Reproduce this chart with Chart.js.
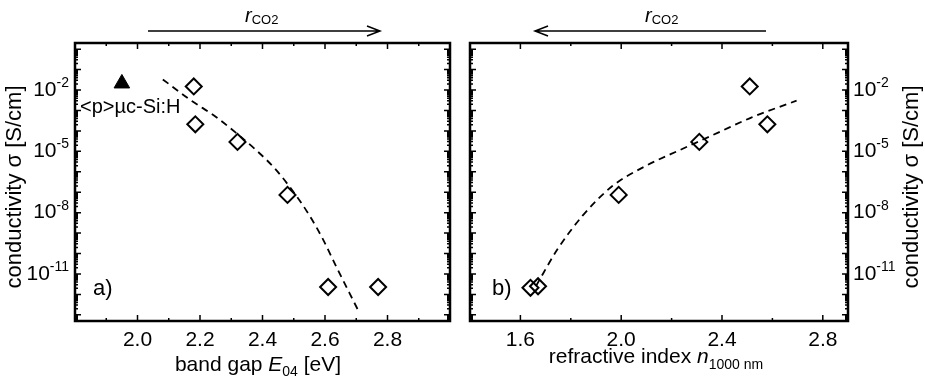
<!DOCTYPE html>
<html>
<head>
<meta charset="utf-8">
<script src="https://cdn.jsdelivr.net/npm/chart.js@4.4.1/dist/chart.umd.min.js"></script>
<style>
    body { margin: 0; background: #fff; }
    #wrap { position: relative; width: 925px; height: 380px; }
    .panel { position: absolute; top: 0; height: 380px; }
    #left { left: 0; width: 460px; }
    #right { left: 460px; width: 465px; }
</style>
</head>
<body>
<div id="wrap">
    <div class="panel" id="left"><canvas id="gapChart"></canvas></div>
    <div class="panel" id="right"><canvas id="indexChart"></canvas></div>
</div>
<script>
// ---------------- DATA ----------------

// panel a) band gap E04 [eV] vs conductivity [S/cm]
const gapValues = [2.18, 2.185, 2.32, 2.48, 2.61, 2.77];
const gapSigma = [1.5e-2, 2.1e-4, 2.9e-5, 7.4e-8, 2.3e-12, 2.3e-12];

// reference <p>µc-Si:H layer
const refGap = [1.95];
const refSigma = [2.1e-2];

// dashed guide line, panel a) (read off the picture)
const gapFitX = [2.081, 2.174, 2.247, 2.315, 2.384, 2.442, 2.505, 2.552, 2.594, 2.636, 2.678, 2.705];
const gapFitY = [3.3e-2, 2.9e-3, 5.4e-4, 8.1e-5, 1.0e-5, 1.3e-6, 7.8e-8, 6.6e-9, 4.8e-10, 2.3e-11, 1.2e-12, 1.8e-13];

// panel b) refractive index n(1000 nm) vs conductivity
const indexValues = [2.51, 2.58, 2.31, 1.99, 1.64, 1.67];
const indexSigma = [1.5e-2, 2.1e-4, 2.9e-5, 7.4e-8, 2.1e-12, 2.5e-12];

// dashed guide line, panel b)
const indexFitX = [1.662, 1.747, 1.846, 1.965, 2.096, 2.242, 2.387, 2.518, 2.696];
const indexFitY = [2.6e-12, 1.6e-10, 6.9e-9, 2.0e-7, 1.9e-6, 1.3e-5, 8.5e-5, 4.6e-4, 3.0e-3];

// axes
const gapTicks = [2.0, 2.2, 2.4, 2.6, 2.8];
const gapMinor = [1.9, 2.1, 2.3, 2.5, 2.7, 2.9];
const indexTicks = [1.6, 2.0, 2.4, 2.8];
const indexMinor = [1.8, 2.2, 2.6];
const sigmaExponents = [-2, -5, -8, -11];

const FONT = '"Liberation Sans", Arial, Helvetica, sans-serif';


// ---------------- HELPERS ----------------

function setFont(ctx, p) {
    ctx.font = (p.italic ? "italic " : "") + p.size + "px " + FONT;
}

// draw text made of several runs (italic / sub / superscript)
function drawRuns(ctx, parts, x, y, align) {
    let total = 0;
    parts.forEach(p => {
        setFont(ctx, p);
        p.w = ctx.measureText(p.t).width;
        total += p.w;
    });
    let cx = x;
    if (align === "center") cx = x - total / 2;
    if (align === "right") cx = x - total;
    ctx.textAlign = "left";
    parts.forEach(p => {
        setFont(ctx, p);
        ctx.fillText(p.t, cx, y + (p.dy || 0));
        cx += p.w;
    });
}

function drawArrow(ctx, x0, x1, y) {
    const dir = x1 > x0 ? 1 : -1;
    ctx.save();
    ctx.strokeStyle = "#000";
    ctx.lineWidth = 1.5;
    ctx.beginPath();
    ctx.moveTo(x0, y);
    ctx.lineTo(x1, y);
    ctx.moveTo(x1 - dir * 13, y - 5);
    ctx.lineTo(x1, y);
    ctx.lineTo(x1 - dir * 13, y + 5);
    ctx.stroke();
    ctx.restore();
}

function seriesPoints(xs, ys) {
    return xs.map((x, i) => ({ x: x, y: ys[i] }));
}

// frame, inward ticks, y labels, titles and notes
function decorPlugin(cfg) {
    return {
        id: "decor",
        afterDraw(chart) {
            const ctx = chart.ctx;
            const a = chart.chartArea;
            const x = chart.scales.x;
            const y = chart.scales.y;

            ctx.save();
            ctx.fillStyle = "#000";
            ctx.strokeStyle = "#000";

            // ticks, all four sides
            ctx.lineWidth = 1.5;
            ctx.beginPath();
            cfg.xMajor.forEach(v => {
                const px = x.getPixelForValue(v);
                ctx.moveTo(px, a.bottom); ctx.lineTo(px, a.bottom - 6);
                ctx.moveTo(px, a.top); ctx.lineTo(px, a.top + 6);
            });
            cfg.xMinor.forEach(v => {
                const px = x.getPixelForValue(v);
                ctx.moveTo(px, a.bottom); ctx.lineTo(px, a.bottom - 3);
                ctx.moveTo(px, a.top); ctx.lineTo(px, a.top + 3);
            });
            for (let d = -14; d <= 0; d++) {
                for (let k = 1; k <= 9; k++) {
                    const v = k * Math.pow(10, d);
                    if (v <= y.min || v >= y.max) continue;
                    const py = y.getPixelForValue(v);
                    const len = k === 1 ? 6 : 3;
                    ctx.moveTo(a.left, py); ctx.lineTo(a.left + len, py);
                    ctx.moveTo(a.right, py); ctx.lineTo(a.right - len, py);
                }
            }
            ctx.stroke();

            ctx.lineWidth = 2.5;
            ctx.strokeRect(a.left, a.top, a.right - a.left, a.bottom - a.top);

            // y tick labels 10^n
            ctx.textBaseline = "middle";
            sigmaExponents.forEach(e => {
                const py = y.getPixelForValue(Math.pow(10, e));
                const parts = [
                    { t: "10", size: 21 },
                    { t: "-" + Math.abs(e), size: 14, dy: -7 }
                ];
                if (cfg.yRight) {
                    drawRuns(ctx, parts, a.right + 5, py, "left");
                } else {
                    drawRuns(ctx, parts, a.left - 6, py, "right");
                }
            });

            // y title
            ctx.save();
            ctx.translate(cfg.yTitleX, 187);
            ctx.rotate(-Math.PI / 2);
            drawRuns(ctx, [{ t: "conductivity σ [S/cm]", size: 22 }], 0, 0, "center");
            ctx.restore();

            // x title
            ctx.textBaseline = "alphabetic";
            drawRuns(ctx, cfg.xTitle, cfg.xTitlePos[0], cfg.xTitlePos[1], "center");

            // r_CO2 arrow
            drawArrow(ctx, cfg.arrow[0], cfg.arrow[1], 31);
            drawRuns(ctx, [
                { t: "r", size: 20, italic: true },
                { t: "CO2", size: 13, dy: 2 }
            ], cfg.arrowLabelX, 22, "left");

            // panel letter
            ctx.textBaseline = "middle";
            drawRuns(ctx, [{ t: cfg.letter, size: 22 }], a.left + cfg.letterDx, 289, "left");

            if (cfg.note) {
                drawRuns(ctx, [{ t: "<p>µc-Si:H", size: 20 }], cfg.note[0], cfg.note[1], "left");
            }
            ctx.restore();
        }
    };
}

function makeOptions(xMin, xMax, xTicks, padding, yWidth, yPos) {
    return {
        responsive: true,
        maintainAspectRatio: false,
        animation: false,
        devicePixelRatio: 1,
        layout: { padding: padding },
        plugins: {
            legend: { display: false },
            tooltip: { enabled: false }
        },
        scales: {
            x: {
                type: "linear",
                min: xMin,
                max: xMax,
                afterBuildTicks: scale => {
                    scale.ticks = xTicks.map(v => ({ value: v }));
                },
                afterFit: scale => { scale.height = 59; },
                grid: { display: false, drawTicks: false },
                border: { display: false },
                ticks: {
                    color: "#000",
                    padding: 7,
                    maxRotation: 0,
                    font: { family: FONT, size: 21 },
                    callback: v => Number(v).toFixed(1)
                }
            },
            y: {
                type: "logarithmic",
                position: yPos,
                min: 5e-14,
                max: 2,
                afterFit: scale => { scale.width = yWidth; },
                grid: { display: false, drawTicks: false },
                border: { display: false },
                ticks: { display: false }
            }
        }
    };
}

const diamondStyle = {
    pointStyle: "rectRot",
    pointRadius: 8,
    borderWidth: 2,
    borderColor: "#000",
    backgroundColor: "rgba(0,0,0,0)"
};

const fitStyle = {
    showLine: true,
    borderColor: "#000",
    borderWidth: 1.8,
    borderDash: [7, 5],
    pointRadius: 0,
    cubicInterpolationMode: "monotone"
};


// ---------------- PANEL A ----------------

new Chart(document.getElementById("gapChart"), {
    type: "scatter",
    data: {
        datasets: [
            Object.assign({ label: "fit", data: seriesPoints(gapFitX, gapFitY) }, fitStyle),
            Object.assign({ label: "samples", data: seriesPoints(gapValues, gapSigma) }, diamondStyle),
            {
                label: "<p>µc-Si:H",
                data: seriesPoints(refGap, refSigma),
                pointStyle: "triangle",
                pointRadius: 9,
                borderWidth: 1,
                borderColor: "#000",
                backgroundColor: "#000"
            }
        ]
    },
    options: makeOptions(1.8, 3.0, gapTicks, { top: 43, right: 6, left: 0, bottom: 0 }, 75, "left"),
    plugins: [decorPlugin({
        xMajor: gapTicks,
        xMinor: gapMinor,
        yRight: false,
        yTitleX: 15,
        xTitle: [
            { t: "band gap ", size: 21 },
            { t: "E", size: 21, italic: true },
            { t: "04", size: 14, dy: 5 },
            { t: " [eV]", size: 21 }
        ],
        xTitlePos: [258, 371],
        arrow: [148, 380],
        arrowLabelX: 245,
        letter: "a)",
        letterDx: 18,
        note: [80, 107]
    })]
});


// ---------------- PANEL B ----------------

new Chart(document.getElementById("indexChart"), {
    type: "scatter",
    data: {
        datasets: [
            Object.assign({ label: "fit", data: seriesPoints(indexFitX, indexFitY) }, fitStyle),
            Object.assign({ label: "samples", data: seriesPoints(indexValues, indexSigma) }, diamondStyle)
        ]
    },
    options: makeOptions(1.4, 2.9, indexTicks, { top: 43, right: 0, left: 5, bottom: 0 }, 77, "right"),
    plugins: [decorPlugin({
        xMajor: indexTicks,
        xMinor: indexMinor,
        yRight: true,
        yTitleX: 452,
        xTitle: [
            { t: "refractive index ", size: 21 },
            { t: "n", size: 21, italic: true },
            { t: "1000 nm", size: 14, dy: 6 }
        ],
        xTitlePos: [196, 363],
        arrow: [306, 75],
        arrowLabelX: 185,
        letter: "b)",
        letterDx: 22,
        note: null
    })]
});
</script>
</body>
</html>
